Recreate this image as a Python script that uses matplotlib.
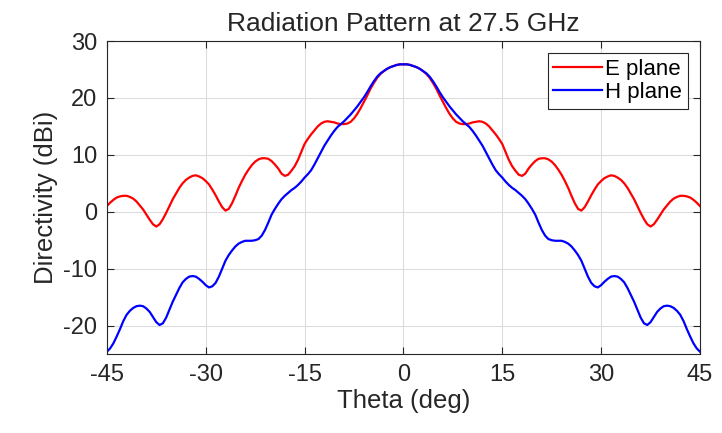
import matplotlib
matplotlib.use("Agg")
import matplotlib.pyplot as plt
import numpy as np

plt.rcParams['font.family'] = ['Liberation Sans', 'DejaVu Sans']
plt.rcParams['axes.unicode_minus'] = False

# angle grid, -45..45 deg in 0.5 deg steps
theta = np.arange(-45, 45.5, 0.5)

# directivity (dBi), -45 -> 45
e_plane = [1.0, 1.6, 2.1, 2.5, 2.7, 2.8, 2.8, 2.6, 2.3, 1.8, 1.1,
           0.4, -0.5, -1.4, -2.2, -2.6, -2.2, -1.3, -0.2, 1.0, 2.2,
           3.2, 4.2, 5.0, 5.6, 6.0, 6.3, 6.4, 6.2, 5.9, 5.4,
           4.8, 3.9, 2.9, 1.8, 0.8, 0.2, 0.5, 1.5, 2.8, 4.2,
           5.4, 6.5, 7.4, 8.2, 8.8, 9.2, 9.4, 9.4, 9.3, 8.9,
           8.3, 7.6, 6.7, 6.3, 6.5, 7.2, 8.0, 9.1, 10.5, 11.9,
           12.8, 13.6, 14.3, 15.0, 15.5, 15.8, 15.9, 15.8, 15.7, 15.5,
           15.4, 15.4, 15.5, 15.8, 16.4, 17.2, 18.2, 19.3, 20.4, 21.6,
           22.6, 23.5, 24.2, 24.7, 25.1, 25.4, 25.6, 25.8, 25.9,
           25.9,
           25.9, 25.8, 25.6, 25.4, 25.1, 24.7, 24.2, 23.5, 22.6,
           21.6, 20.4, 19.3, 18.2, 17.2, 16.4, 15.8, 15.5, 15.4, 15.4,
           15.5, 15.7, 15.8, 15.9, 15.8, 15.5, 15.0, 14.3, 13.6, 12.8,
           11.9, 10.5, 9.1, 8.0, 7.2, 6.5, 6.3, 6.7, 7.6, 8.3,
           8.9, 9.3, 9.4, 9.4, 9.2, 8.8, 8.2, 7.4, 6.5, 5.4,
           4.2, 2.8, 1.5, 0.5, 0.2, 0.8, 1.8, 2.9, 3.9, 4.8,
           5.4, 5.9, 6.2, 6.4, 6.3, 6.0, 5.6, 5.0, 4.2, 3.2,
           2.2, 1.0, -0.2, -1.3, -2.2, -2.6, -2.2, -1.4, -0.5, 0.4,
           1.1, 1.8, 2.3, 2.6, 2.8, 2.8, 2.7, 2.5, 2.1, 1.6,
           1.0]

h_plane = [-24.6, -24.0, -23.1, -21.9, -20.6, -19.2, -18.1, -17.4, -16.9, -16.6, -16.5,
           -16.6, -17.0, -17.6, -18.5, -19.4, -19.9, -19.6, -18.6, -17.2, -15.8,
           -14.6, -13.4, -12.4, -11.8, -11.4, -11.3, -11.4, -11.8, -12.3, -12.9,
           -13.3, -13.1, -12.5, -11.4, -10.0, -8.6, -7.6, -6.8, -6.1, -5.6,
           -5.3, -5.1, -5.1, -5.1, -5.0, -4.8, -4.2, -3.2, -1.9, -0.5,
           0.5, 1.4, 2.2, 2.8, 3.3, 3.8, 4.2, 4.7, 5.3, 6.0,
           6.6, 7.3, 8.3, 9.4, 10.5, 11.6, 12.5, 13.4, 14.2, 14.9,
           15.4, 15.9, 16.5, 17.1, 17.8, 18.5, 19.3, 20.1, 21.0, 22.0,
           22.9, 23.7, 24.3, 24.7, 25.1, 25.4, 25.6, 25.8, 25.9,
           25.9,
           25.9, 25.8, 25.6, 25.4, 25.1, 24.7, 24.3, 23.7, 22.9,
           22.0, 21.0, 20.1, 19.3, 18.5, 17.8, 17.1, 16.5, 15.9, 15.4,
           14.9, 14.2, 13.4, 12.5, 11.6, 10.5, 9.4, 8.3, 7.3, 6.6,
           6.0, 5.3, 4.7, 4.2, 3.8, 3.3, 2.8, 2.2, 1.4, 0.5,
           -0.5, -1.9, -3.2, -4.2, -4.8, -5.0, -5.1, -5.1, -5.1, -5.3,
           -5.6, -6.1, -6.8, -7.6, -8.6, -10.0, -11.4, -12.5, -13.1, -13.3,
           -12.9, -12.3, -11.8, -11.4, -11.3, -11.4, -11.8, -12.4, -13.4, -14.6,
           -15.8, -17.2, -18.6, -19.6, -19.9, -19.4, -18.5, -17.6, -17.0, -16.6,
           -16.5, -16.6, -16.9, -17.4, -18.1, -19.2, -20.6, -21.9, -23.1, -24.0,
           -24.6]

x_ticks = [-45, -30, -15, 0, 15, 30, 45]
y_ticks = [-20, -10, 0, 10, 20, 30]

fig = plt.figure(figsize=(7.22, 4.33), dpi=100)
ax = fig.add_axes([0.148, 0.1824, 0.8215, 0.7229])

ax.plot(theta, e_plane, color='#ff0000', lw=1.6, label='E plane')
ax.plot(theta, h_plane, color='#0000ff', lw=1.6, label='H plane')

ax.set_xlim(-45, 45)
ax.set_ylim(-25, 30)
ax.set_xticks(x_ticks)
ax.set_yticks(y_ticks)
ax.grid(True, color='#dcdcdc', lw=0.8)
ax.set_axisbelow(True)

for s in ax.spines.values():
    s.set_color('#262626')
    s.set_linewidth(0.8)
ax.tick_params(direction='in', top=True, right=True, length=5, width=0.8,
               colors='#262626', labelsize=17, pad=7)

ax.set_title('Radiation Pattern at 27.5 GHz', fontsize=19, color='#262626', pad=7)
ax.set_xlabel('Theta (deg)', fontsize=18.5, color='#262626', labelpad=2)
ax.set_ylabel('Directivity (dBi)', fontsize=18.5, color='#262626', labelpad=4)

leg = ax.legend(loc='upper right', fontsize=16, fancybox=False, framealpha=1,
                edgecolor='#262626', borderpad=0.25, labelspacing=0.1,
                handlelength=2.2, handletextpad=0.15, borderaxespad=0.55)
leg.get_frame().set_linewidth(0.8)

fig.savefig('out.png', dpi=100)
